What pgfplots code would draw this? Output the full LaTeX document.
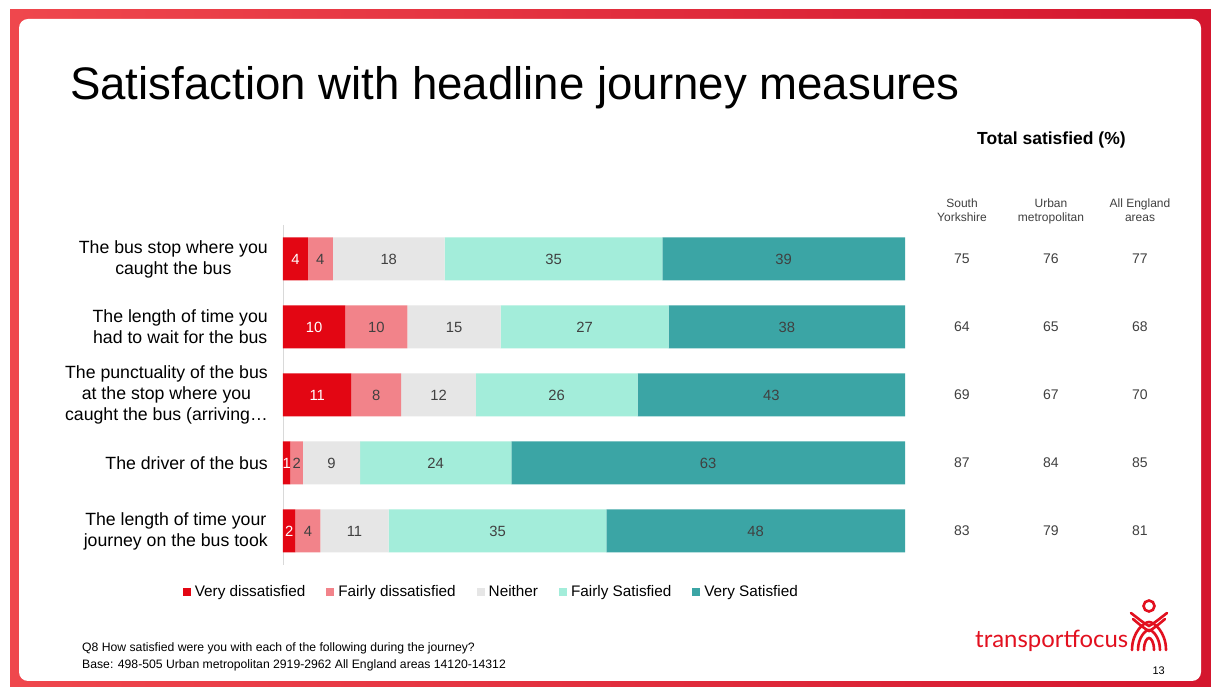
\documentclass[border=0pt]{standalone}
\usepackage{pgfplots}
\pgfplotsset{compat=1.18}
\usepackage{pgfplotstable}
\usepackage{graphicx}
\usepackage{fontspec}
\setmainfont{Liberation Sans}
\newfontfamily\logofont{Lato}
\definecolor{cvd}{HTML}{E30613}
\definecolor{cfd}{HTML}{F2838A}
\definecolor{cne}{HTML}{E6E6E6}
\definecolor{cfs}{HTML}{A3EDDA}
\definecolor{cvs}{HTML}{3BA5A5}
\definecolor{lab}{HTML}{404040}
\definecolor{frameL}{HTML}{EF474D}
\definecolor{frameR}{HTML}{D4162E}
\definecolor{logo}{HTML}{E2101F}
\newcommand{\fsz}[2]{\fontsize{#1pt}{#2pt}\selectfont}

\pgfplotstableread{
row vd fd ne fs vs
1 4 4 18 35 39
2 10 10 15 27 38
3 11 8 12 26 43
4 1.2 2 9.2 24.3 63.3
5 2 4 11 35 48
}\bars
\pgfplotstableread{
row sy um ae
1 75 76 77
2 64 65 68
3 69 67 70
4 87 84 85
5 83 79 81
}\totals

\begin{document}
\begin{tikzpicture}
\begin{scope}[x=1pt, y=-1pt, yshift=687pt]
\fill[white] (0,0) rectangle (1211,687);
\shade[left color=frameL, right color=frameR] (10,10) rectangle (1211,687);
\fill[white, rounded corners=9pt] (19,19) rectangle (1201,681);
\node[anchor=base west, inner sep=0] at (70,100) {\fsz{45.6}{55}Satisfaction with headline journey measures};
\node[anchor=base west, inner sep=0] at (977,145) {\fsz{17.5}{20}\bfseries Total satisfied (\%)};
\node[anchor=north, align=center, inner sep=0, text=lab, font=\fsz{12}{13.5}] at (962,199) {South\\Yorkshire};
\node[anchor=north, align=center, inner sep=0, text=lab, font=\fsz{12}{13.5}] at (1051,199) {Urban\\metropolitan};
\node[anchor=north, align=center, inner sep=0, text=lab, font=\fsz{12}{13.5}] at (1140,199) {All England\\areas};
\node[anchor=base west, inner sep=0] at (82,652) {\fsz{12.2}{14}Q8 How satisfied were you with each of the following during the journey?};
\node[anchor=base west, inner sep=0] at (82,669) {\fsz{12.2}{14}Base: 498-505 Urban metropolitan 2919-2962 All England areas 14120-14312};
\node[anchor=base west, inner sep=0, text=logo] at (975,648) {\resizebox{153pt}{!}{\logofont transportfocus}};
\node[anchor=base east, inner sep=0] at (1165,675) {\fsz{11}{13}13};
% logo icon
\begin{scope}[draw=logo, line width=2.6pt, line cap=round]
\draw (1149,606) circle (5.5);
\draw (1131,613) .. controls (1140,620) and (1145,624) .. (1149,626) .. controls (1153,624) and (1158,620) .. (1167,613);
\draw (1133,619) .. controls (1140,625) and (1145,629) .. (1149,631) .. controls (1153,629) and (1158,625) .. (1165,619);
\draw (1132,650) .. controls (1132,632) and (1144,622) .. (1149,622) .. controls (1154,622) and (1166,632) .. (1166,650);
\draw (1138,650) .. controls (1138,638) and (1145,630) .. (1149,630) .. controls (1153,630) and (1160,638) .. (1160,650);
\draw (1144,650) .. controls (1144,642) and (1147,638) .. (1149,638) .. controls (1151,638) and (1154,642) .. (1154,650);
\end{scope}
\end{scope}

\begin{axis}[
  at={(283pt,122pt)}, anchor=south west,
  scale only axis, width=622pt, height=340pt,
  xbar stacked, bar width=43pt,
  xmin=0, xmax=100, ymin=0.5, ymax=5.5, y dir=reverse,
  axis x line=none, axis y line=left,
  axis line style={-, draw=black!15, line width=0.8pt},
  ytick={1,2,3,4,5},
  yticklabels={{The bus stop where you\\caught the bus},{The length of time you\\had to wait for the bus},{The punctuality of the bus\\at the stop where you\\caught the bus (arriving…},{The driver of the bus},{The length of time your\\journey on the bus took}},
  yticklabel style={align=center, font=\fsz{17.7}{21}, text=black, inner sep=0pt, xshift=-15pt},
  major tick length=0pt,
  legend columns=5,
  legend style={at={(0.335,-0.079)}, anchor=center, draw=none, font=\fsz{15.3}{17},
    /tikz/every even column/.append style={column sep=19pt}},
  legend image code/.code={\fill[#1, draw=none] (0pt,-4pt) rectangle (8pt,4pt);},
  legend cell align=left,
]
\addplot[fill=cvd, draw=none] table[x=vd, y=row]{\bars};
\addlegendentry{\hspace{2pt}Very dissatisfied}
\addplot[fill=cfd, draw=none] table[x=fd, y=row]{\bars};
\addlegendentry{\hspace{2pt}Fairly dissatisfied}
\addplot[fill=cne, draw=none] table[x=ne, y=row]{\bars};
\addlegendentry{\hspace{2pt}Neither}
\addplot[fill=cfs, draw=none] table[x=fs, y=row]{\bars};
\addlegendentry{\hspace{2pt}Fairly Satisfied}
\addplot[fill=cvs, draw=none] table[x=vs, y=row]{\bars};
\addlegendentry{\hspace{2pt}Very Satisfied}
\end{axis}

\begin{axis}[
  at={(283pt,122pt)}, anchor=south west,
  scale only axis, width=622pt, height=340pt,
  xmin=0, xmax=100, ymin=0.5, ymax=5.5, y dir=reverse,
  hide axis, clip=false,
  /pgf/number format/assume math mode=true,
  nodes near coords={\pgfmathprintnumber[fixed,precision=0]{\pgfplotspointmeta}},
  point meta=explicit,
  every node near coord/.append style={anchor=center, font=\fsz{14.8}{17}, text=lab},
]
\addplot[draw=none, mark=none, nodes near coords style={text=white}] table[x expr=\thisrow{vd}/2, y=row, meta=vd]{\bars};
\addplot[draw=none, mark=none] table[x expr=\thisrow{vd}+\thisrow{fd}/2, y=row, meta=fd]{\bars};
\addplot[draw=none, mark=none] table[x expr=\thisrow{vd}+\thisrow{fd}+\thisrow{ne}/2, y=row, meta=ne]{\bars};
\addplot[draw=none, mark=none] table[x expr=\thisrow{vd}+\thisrow{fd}+\thisrow{ne}+\thisrow{fs}/2, y=row, meta=fs]{\bars};
\addplot[draw=none, mark=none] table[x expr=\thisrow{vd}+\thisrow{fd}+\thisrow{ne}+\thisrow{fs}+\thisrow{vs}/2, y=row, meta=vs]{\bars};
\addplot[draw=none, mark=none, nodes near coords style={font=\fsz{14}{16}}] table[x expr=109.16, y=row, meta=sy]{\totals};
\addplot[draw=none, mark=none, nodes near coords style={font=\fsz{14}{16}}] table[x expr=123.47, y=row, meta=um]{\totals};
\addplot[draw=none, mark=none, nodes near coords style={font=\fsz{14}{16}}] table[x expr=137.78, y=row, meta=ae]{\totals};
\end{axis}
\end{tikzpicture}
\end{document}
